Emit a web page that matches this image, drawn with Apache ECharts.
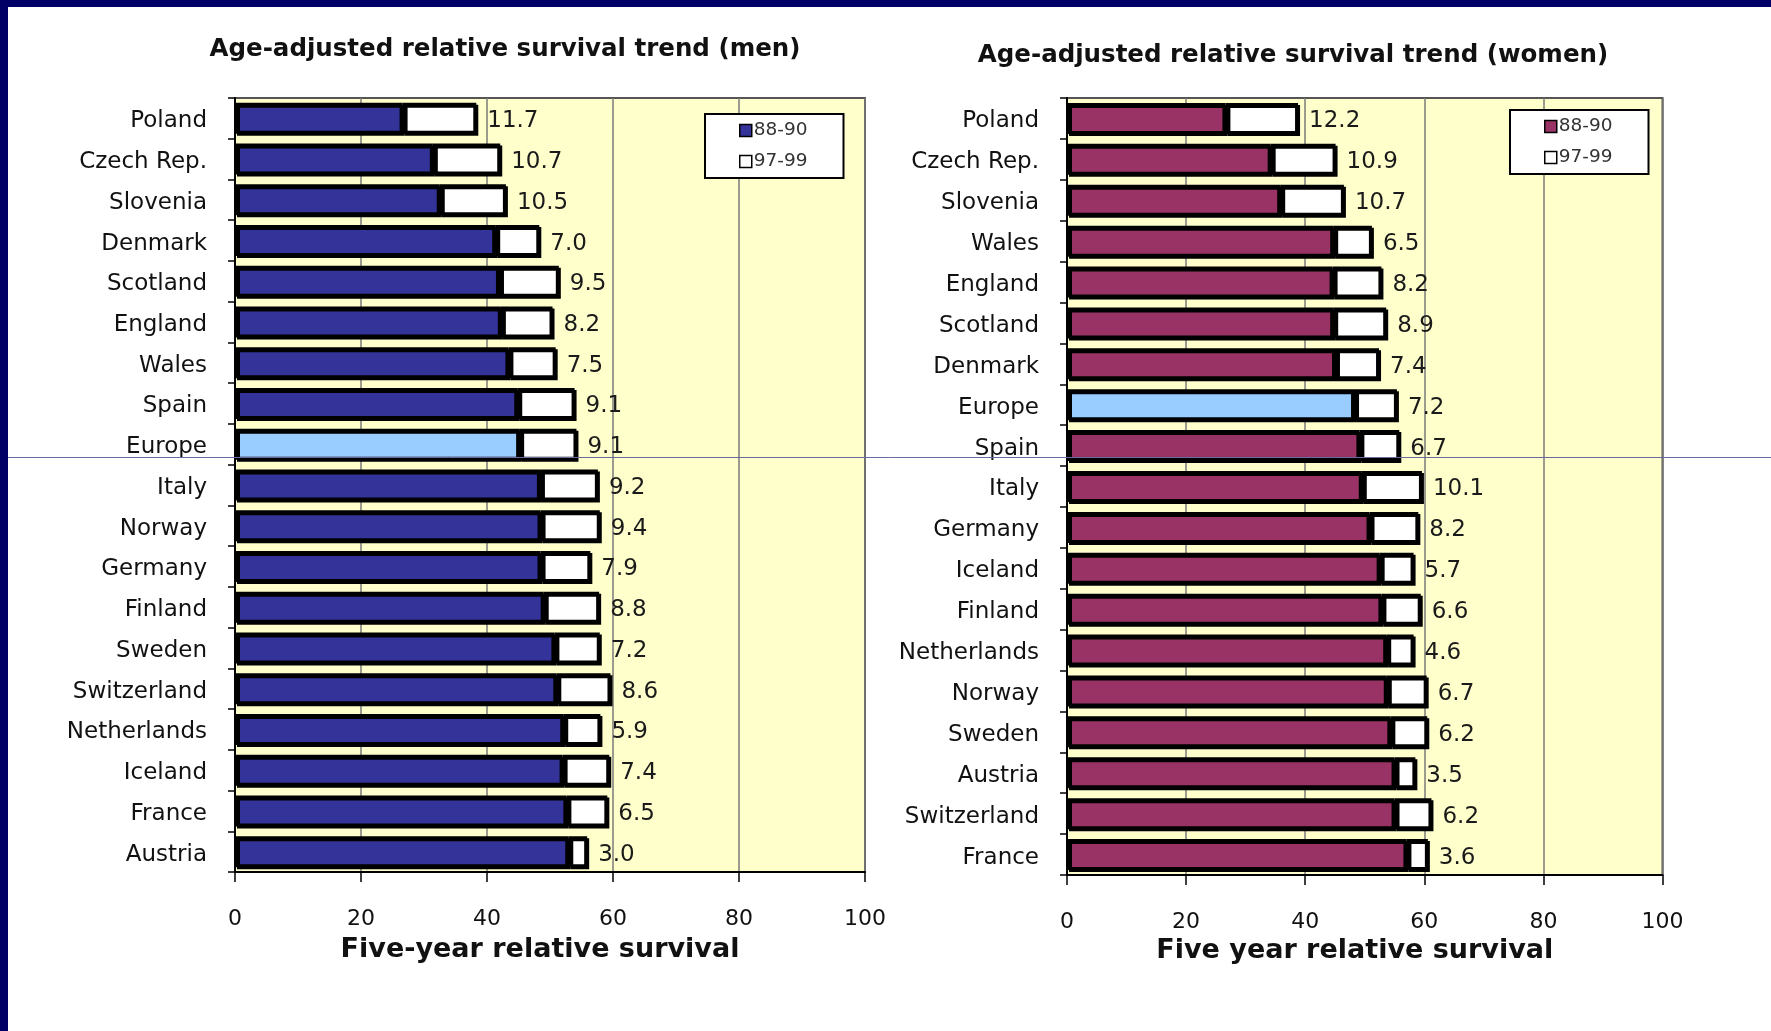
<!DOCTYPE html>
<html>
<head>
<meta charset="utf-8">
<script src="https://cdn.jsdelivr.net/npm/echarts@6/dist/echarts.min.js"></script>
<style>
  html, body { margin: 0; padding: 0; background: #fff; }
  #chart { width: 1771px; height: 1031px; }
</style>
</head>
<body>
<div id="chart"></div>
<script>
// Men: five-year relative survival 1988-90 and the gain by 1997-99
const menCountries = ['Poland', 'Czech Rep.', 'Slovenia', 'Denmark', 'Scotland', 'England', 'Wales', 'Spain', 'Europe',
  'Italy', 'Norway', 'Germany', 'Finland', 'Sweden', 'Switzerland', 'Netherlands', 'Iceland', 'France', 'Austria'];
const men8890 = [26.6, 31.4, 32.5, 41.3, 41.9, 42.2, 43.4, 44.8, 45.1,
  48.4, 48.5, 48.5, 49.0, 50.7, 51.0, 52.1, 52.0, 52.6, 52.9];
const menGain = [11.7, 10.7, 10.5, 7.0, 9.5, 8.2, 7.5, 9.1, 9.1,
  9.2, 9.4, 7.9, 8.8, 7.2, 8.6, 5.9, 7.4, 6.5, 3.0];

// Women
const womenCountries = ['Poland', 'Czech Rep.', 'Slovenia', 'Wales', 'England', 'Scotland', 'Denmark', 'Europe', 'Spain',
  'Italy', 'Germany', 'Iceland', 'Finland', 'Netherlands', 'Norway', 'Sweden', 'Austria', 'Switzerland', 'France'];
const women8890 = [26.6, 34.2, 35.8, 44.7, 44.6, 44.7, 45.0, 48.2, 49.1,
  49.5, 50.8, 52.5, 52.8, 53.6, 53.7, 54.3, 55.0, 55.0, 57.0];
const womenGain = [12.2, 10.9, 10.7, 6.5, 8.2, 8.9, 7.4, 7.2, 6.7,
  10.1, 8.2, 5.7, 6.6, 4.6, 6.7, 6.2, 3.5, 6.2, 3.6];

const xTicks = [0, 20, 40, 60, 80, 100];
const periods = ['88-90', '97-99'];

const FONT = 'DejaVu Sans';
const MEN_COLOR = '#333399';
const WOMEN_COLOR = '#993366';
const EUROPE_COLOR = '#99CCFF';

const barStyle = {
  borderColor: '#000',
  borderWidth: 3,
  shadowColor: '#000',
  shadowBlur: 0,
  shadowOffsetX: 2,
  shadowOffsetY: 2
};

function baseData(countries, values) {
  return values.map((v, i) => countries[i] === 'Europe'
    ? { value: v, itemStyle: { color: EUROPE_COLOR } }
    : v);
}

function xAxis(gridIndex, name, nameGap) {
  return {
    type: 'value', gridIndex,
    min: xTicks[0], max: xTicks[xTicks.length - 1], interval: xTicks[1] - xTicks[0],
    name, nameLocation: 'middle', nameGap,
    nameTextStyle: { fontFamily: FONT, fontSize: 27, fontWeight: 'bold', color: '#111', padding: [0, 20, 0, 0] },
    axisLine: { show: true, lineStyle: { color: '#000', width: 2 } },
    axisTick: { show: true, length: 10, lineStyle: { color: '#000', width: 1.5 } },
    axisLabel: { fontFamily: FONT, fontSize: 22, color: '#111', margin: 36 },
    splitLine: { show: true, lineStyle: { color: '#7a7a7a', width: 1.5 } }
  };
}

function yAxis(gridIndex, countries) {
  return {
    type: 'category', gridIndex, inverse: true, data: countries,
    axisLine: { show: true, lineStyle: { color: '#000', width: 2 } },
    axisTick: { show: true, length: 7, lineStyle: { color: '#000', width: 1.5 } },
    // a short top-aligned line box sets the text centre a few pixels below the band centre
    axisLabel: { fontFamily: FONT, fontSize: 23, color: '#111', margin: 28, verticalAlign: 'top', lineHeight: 6 },
    splitLine: { show: false }
  };
}

function seriesPair(idx, countries, base, gain, color) {
  return [
    {
      name: periods[0], type: 'bar', stack: 's' + idx, xAxisIndex: idx, yAxisIndex: idx,
      barWidth: 31, data: baseData(countries, base),
      itemStyle: Object.assign({ color }, barStyle)
    },
    {
      name: periods[1], type: 'bar', stack: 's' + idx, xAxisIndex: idx, yAxisIndex: idx,
      barWidth: 31, data: gain,
      itemStyle: Object.assign({ color: '#FFFFFF' }, barStyle),
      label: {
        show: true, position: 'right', distance: 11, offset: [0, 3],
        fontFamily: FONT, fontSize: 23, color: '#1a1a1a',
        formatter: p => Number(p.value).toFixed(1)
      }
    }
  ];
}

function legend(left, top, color) {
  return {
    left, top, orient: 'vertical', selectedMode: false,
    backgroundColor: '#fff', borderColor: '#000', borderWidth: 2, borderRadius: 0,
    padding: [7, 36, 7, 34], itemGap: 12,
    itemWidth: 12, itemHeight: 12, icon: 'rect',
    itemStyle: { borderColor: '#000', borderWidth: 1.5, shadowBlur: 0, shadowOffsetX: 0, shadowOffsetY: 0, shadowColor: 'rgba(0,0,0,0)' },
    textStyle: { fontFamily: FONT, fontSize: 18.5, color: '#333', padding: [0, 0, 0, -3] },
    data: [
      { name: periods[0], itemStyle: { color } },
      { name: periods[1], itemStyle: { color: '#FFFFFF' } }
    ]
  };
}

const chart = echarts.init(document.getElementById('chart'), null, { renderer: 'canvas' });

chart.setOption({
  backgroundColor: '#ffffff',
  animation: false,
  title: [
    {
      text: 'Age-adjusted relative survival trend (men)', left: 505, top: 37.5, textAlign: 'center', padding: 0,
      textStyle: { fontFamily: FONT, fontSize: 24.5, fontWeight: 'bold', color: '#111' }
    },
    {
      text: 'Age-adjusted relative survival trend (women)', left: 1293, top: 43.5, textAlign: 'center', padding: 0,
      textStyle: { fontFamily: FONT, fontSize: 24.5, fontWeight: 'bold', color: '#111' }
    }
  ],
  legend: [
    legend(705, 114, MEN_COLOR),
    legend(1510, 110, WOMEN_COLOR)
  ],
  grid: [
    { left: 235, right: 906, top: 98, bottom: 159, show: true, backgroundColor: '#FFFFCC', borderColor: '#555', borderWidth: 2 },
    { left: 1067, right: 108.5, top: 98, bottom: 156, show: true, backgroundColor: '#FFFFCC', borderColor: '#555', borderWidth: 2 }
  ],
  xAxis: [
    xAxis(0, 'Five-year relative survival', 64),
    xAxis(1, 'Five year relative survival', 61)
  ],
  yAxis: [
    yAxis(0, menCountries),
    yAxis(1, womenCountries)
  ],
  series: [
    ...seriesPair(0, menCountries, men8890, menGain, MEN_COLOR),
    ...seriesPair(1, womenCountries, women8890, womenGain, WOMEN_COLOR)
  ],
  graphic: [
    // slide frame: navy band along the top and left edges
    { type: 'rect', z: 100, shape: { x: 0, y: 0, width: 1771, height: 7 }, style: { fill: '#000066' } },
    { type: 'rect', z: 100, shape: { x: 0, y: 0, width: 8, height: 1031 }, style: { fill: '#000066' } },
    // thin guide rule across the slide
    { type: 'line', z: 100, shape: { x1: 8, y1: 457.5, x2: 1771, y2: 457.5 }, style: { stroke: '#6a6aa0', lineWidth: 1 } }
  ]
});
</script>
</body>
</html>
